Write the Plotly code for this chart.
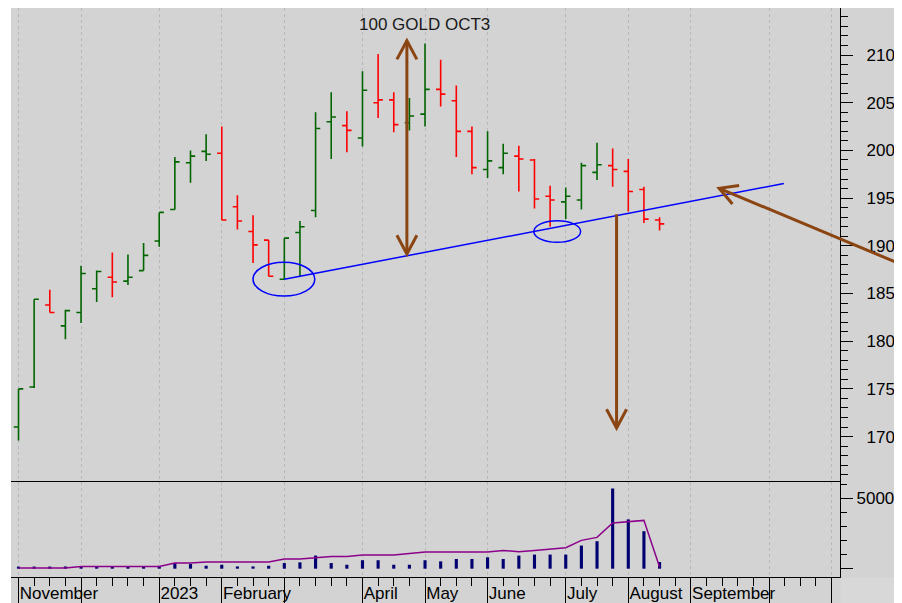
import numpy as np
import pandas as pd
import plotly.graph_objects as go

# ---------------- data ----------------
# weekly slots on the time axis (week ending Friday), Nov 2022 .. Nov 2023
weeks = pd.date_range("2022-11-04", "2023-11-03", freq="W-FRI")

opens = [1710, 1752, 1838, 1816, 1830, 1855, 1867, 1863, 1874, 1905,
         1938, 1987, 1999, 1997, 1941, 1915, 1906, 1865, 1914, 1937,
         2030, 2026, 2013, 2050, 2053, 2029, 2038, 2064, 2052, 2020,
         1980, 1982, 1994, 1990, 1952, 1946, 1948, 1977, 1984, 1978,
         1959, 1927]
highs = [1750, 1844, 1854, 1833, 1879, 1874, 1893, 1891, 1903, 1935,
         1993, 2000, 2017, 2025, 1953, 1932, 1906, 1908, 1926, 2040,
         2061, 2041, 2083, 2101, 2061, 2055, 2112, 2095, 2068, 2025,
         2020, 2007, 2005, 1991, 1963, 1961, 1987, 2008, 2002, 1991,
         1962, 1930]
lows = [1696, 1751, 1830, 1802, 1819, 1841, 1846, 1859, 1874, 1899,
        1938, 1966, 1989, 1927, 1917, 1882, 1868, 1865, 1868, 1930,
        1991, 1998, 2004, 2034, 2019, 2021, 2025, 2046, 1993, 1975,
        1971, 1975, 1957, 1939, 1920, 1928, 1938, 1969, 1962, 1936,
        1924, 1916]
closes = [1750, 1844, 1830, 1832, 1871, 1873, 1862, 1867, 1890, 1935,
          1988, 1994, 1996, 1927, 1926, 1901, 1868, 1908, 1920, 2023,
          2035, 2021, 2063, 2053, 2027, 2036, 2064, 2059, 2020, 1982,
          1989, 1997, 1991, 1949, 1948, 1952, 1984, 1985, 1980, 1957,
          1928, 1923]
volume = [1500, 1500, 1500, 1600, 1800, 1800, 1800, 1800, 1800, 2000,
          4000, 3300, 2100, 2800, 1600, 1600, 2100, 4000, 4500, 9300,
          4000, 2800, 6000, 6000, 2800, 2800, 6000, 5200, 6900, 6900,
          8100, 6900, 9300, 10000, 10000, 10000, 16400, 19500, 57000, 35000,
          26600, 4700]
open_interest = [500, 500, 500, 500, 1600, 1600, 1600, 1600, 1600, 1600,
                 4000, 4000, 4700, 4700, 4700, 4700, 4700, 6800, 6800, 7700,
                 8700, 8700, 9700, 9700, 9700, 10800, 11900, 11900, 11900, 11900,
                 11900, 13000, 12100, 13000, 14000, 14900, 20100, 22200, 32500, 33200,
                 34300, 1200]

month_labels = ["November", "", "2023", "February", "", "April", "May",
                "June", "July", "August", "September", "", "November"]
price_ticks = [1700, 1750, 1800, 1850, 1900, 1950, 2000, 2050, 2100, 2150]
price_labels = ["1700", "1750", "1800", "1850", "1900", "1950", "2000", "2050", "2100", ""]
vol_ticks = [0, 50000]
vol_labels = ["", "50000"]
title_text = "100 GOLD OCT3"

# ---------------- styling ----------------
BG = "#d3d3d3"
GREEN = "#006400"
RED = "#ff0000"
NAVY = "#000070"
PURPLE = "#8b008b"
BROWN = "#8b4513"
BLUE = "#0000ff"
FONT = "Liberation Sans, Arial, sans-serif"

# the page body adds an 8px offset; the figure is sized to fill the 902x603 window
W, H = 894, 595
ML, MR, MT, MB = 3, 62, 0, 26
PLOT_H = H - MT - MB

n = len(closes)
xi = np.arange(n)
slot = np.arange(len(weeks))
month_pos = [i for i in slot if i == 0 or weeks[i].month != weeks[i - 1].month]

# bar colour: close vs previous close
up = [i == 0 or closes[i] >= closes[i - 1] for i in range(n)]

X0, X1 = -0.48, 52.54
PRICE_RANGE = [1652.9, 2149.3]
VOL_RANGE = [-5900, 61900]
VOL_TOP = (577 - 481.5) / PLOT_H

fig = go.Figure()
for flag, col in [(True, GREEN), (False, RED)]:
    sel = [i for i in range(n) if up[i] == flag]
    fig.add_trace(go.Ohlc(
        x=[xi[i] for i in sel],
        open=[opens[i] for i in sel], high=[highs[i] for i in sel],
        low=[lows[i] for i in sel], close=[closes[i] for i in sel],
        increasing=dict(line=dict(color=col, width=1.6)),
        decreasing=dict(line=dict(color=col, width=1.6)),
        tickwidth=0.3, xaxis="x", yaxis="y", showlegend=False, hoverinfo="skip"))

fig.add_trace(go.Bar(x=xi, y=volume, width=0.2, marker=dict(color=NAVY, line=dict(width=0)),
                     xaxis="x", yaxis="y2", showlegend=False, hoverinfo="skip"))
fig.add_trace(go.Scatter(x=xi, y=open_interest, mode="lines", line=dict(color=PURPLE, width=1.5),
                         xaxis="x", yaxis="y2", showlegend=False, hoverinfo="skip"))


def xpaper(i):
    return (i - X0) / (X1 - X0)


shapes = [
    # grey background behind everything except the white top/left strip
    dict(type="rect", xref="paper", yref="paper", x0=0, x1=1.1, y0=-0.06, y1=1,
         fillcolor=BG, line=dict(width=0), layer="below"),
    # separator between price and volume panels
    dict(type="line", xref="paper", yref="paper", x0=0, x1=1, y0=VOL_TOP, y1=VOL_TOP,
         line=dict(color="black", width=1.2)),
    # hide overflow of last month label
    dict(type="rect", xref="paper", yref="paper", x0=1.0008, x1=1.1, y0=-0.06, y1=-0.0012,
         fillcolor="#d8d8d8", line=dict(width=0), layer="above"),
]

# hand-drawn annotations (data coordinates)
tl = (17.0, 1864.9, 48.95, 1965.3)
shapes.append(dict(type="line", xref="x", yref="y", x0=tl[0], y0=tl[1], x1=tl[2], y1=tl[3],
                   line=dict(color=BLUE, width=1.5)))
shapes.append(dict(type="circle", xref="x", yref="y", x0=15.0, x1=18.95, y0=1847.4, y1=1882.7,
                   line=dict(color=BLUE, width=1.5)))
shapes.append(dict(type="circle", xref="x", yref="y", x0=32.96, x1=35.95, y0=1903.7, y1=1926.3,
                   line=dict(color=BLUE, width=1.5)))

HX, HY = 0.64, 19.6  # arrow head half-width (weeks) / length (price)


def vline_arrow(x, ytail, ytip, both=False):
    out = [dict(type="line", xref="x", yref="y", x0=x, x1=x, y0=ytail, y1=ytip,
                line=dict(color=BROWN, width=3))]
    heads = [(ytip, ytail)] + ([(ytail, ytip)] if both else [])
    for tip, other in heads:
        s = 1 if other > tip else -1
        out.append(dict(type="path", xref="x", yref="y",
                        path=f"M {x - HX},{tip + s * HY} L {x},{tip} L {x + HX},{tip + s * HY}",
                        line=dict(color=BROWN, width=3)))
    return out


shapes += vline_arrow(24.84, 1891.4, 2115.0, both=True)
shapes += vline_arrow(38.25, 1933.0, 1709.0)

# diagonal arrow coming from the right edge
tip = (44.81, 1960.3)
tail = (57.65, 1872.3)
shapes.append(dict(type="line", xref="paper", yref="y", x0=xpaper(tail[0]), y0=tail[1],
                   x1=xpaper(tip[0]), y1=tip[1], line=dict(color=BROWN, width=3)))
shapes.append(dict(type="path", xref="x", yref="y",
                   path=f"M 46.09,1963.1 L {tip[0]},{tip[1]} L 45.66,1943.8",
                   line=dict(color=BROWN, width=3)))

annotations = [dict(text=title_text, xref="paper", yref="paper", x=0.4988, y=1 - 16.0 / PLOT_H,
                    xanchor="center", yanchor="middle", showarrow=False,
                    font=dict(family=FONT, size=17, color="#1a1a1a"))]

fig.update_layout(
    template="none",
    width=W, height=H,
    margin=dict(l=ML, r=MR, t=MT, b=MB, pad=0),
    paper_bgcolor="white", plot_bgcolor=BG,
    font=dict(family=FONT, size=17, color="black"),
    showlegend=False, shapes=shapes, annotations=annotations,
    xaxis=dict(
        domain=[0, 1], range=[X0, X1], anchor="y2", automargin=False,
        tickmode="array", tickvals=month_pos, ticktext=month_labels, tickangle=0,
        ticks="outside", ticklen=26, tickwidth=1.2, tickcolor="black",
        ticklabelposition="outside right", ticklabelstandoff=0,
        tickfont=dict(family=FONT, size=17, color="black"),
        minor=dict(dtick=1, tick0=0, ticks="outside", ticklen=8, tickwidth=1.2,
                   tickcolor="black", showgrid=False),
        showgrid=True, gridcolor="#b8b8b8", griddash="dot", gridwidth=1,
        showline=True, linecolor="black", linewidth=1.2, zeroline=False,
        rangeslider=dict(visible=False), fixedrange=True),
    yaxis=dict(
        domain=[VOL_TOP, 1], range=PRICE_RANGE, side="right", anchor="x", automargin=False,
        tickmode="array", tickvals=price_ticks, ticktext=price_labels,
        ticks="outside", ticklen=12, tickwidth=1.2, tickcolor="black",
        ticklabelstandoff=10,
        minor=dict(dtick=10, tick0=0, ticks="outside", ticklen=7, tickwidth=1.2,
                   tickcolor="black", showgrid=False),
        showgrid=False, showline=True, linecolor="black", linewidth=1.2, zeroline=False),
    yaxis2=dict(
        domain=[0, VOL_TOP], range=VOL_RANGE, side="right", anchor="x", automargin=False,
        tickmode="array", tickvals=vol_ticks, ticktext=vol_labels,
        ticks="outside", ticklen=12, tickwidth=1.2, tickcolor="black",
        minor=dict(dtick=10000, tick0=0, ticks="outside", ticklen=6, tickwidth=1.2,
                   tickcolor="black", showgrid=False),
        showgrid=False, showline=True, linecolor="black", linewidth=1.2, zeroline=False),
)

fig.write_html("out.html")
